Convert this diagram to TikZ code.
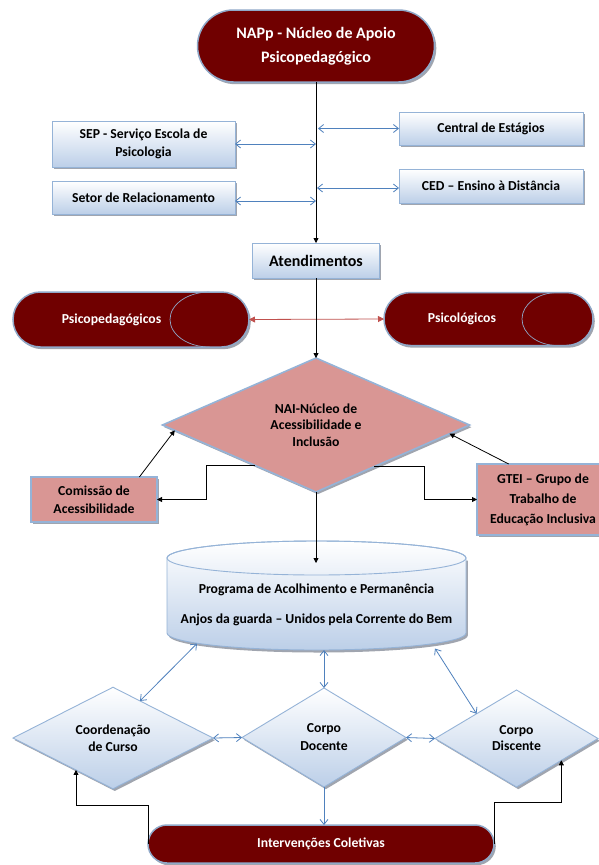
\documentclass[tikz,border=0pt]{standalone}
\usepackage{fontspec}
\setmainfont{Carlito}
\usetikzlibrary{shapes.geometric,shapes.misc,arrows.meta,shadows,calc}
\definecolor{darkred}{RGB}{112,0,0}
\definecolor{pillborder}{RGB}{143,168,200}
\definecolor{boxborder}{RGB}{149,179,215}
\definecolor{boxbottom}{RGB}{188,207,232}
\definecolor{pinkfill}{RGB}{217,150,148}
\definecolor{arrowblue}{RGB}{79,129,189}
\definecolor{arrowred}{RGB}{192,80,77}
\definecolor{shadowgrey}{RGB}{160,165,175}
\tikzset{
  txt/.style={font=\bfseries\fontsize{13.7}{17}\selectfont, align=center},
  shad/.style={drop shadow={shadow xshift=1.8pt, shadow yshift=-2.2pt, fill=shadowgrey, opacity=1}},
  bluebox/.style={rectangle, draw=boxborder, line width=0.9pt, top color=white, bottom color=boxbottom, shad, inner sep=0pt, outer sep=0pt, txt},
  pinkbox/.style={rectangle, draw=boxborder, line width=1.6pt, fill=pinkfill, shad, inner sep=0pt, outer sep=0pt, txt},
  pill/.style={rounded rectangle, draw=pillborder, line width=1.5pt, fill=darkred, text=white, shad, inner sep=0pt, outer sep=0pt, txt},
  bluediamond/.style={diamond, draw=boxborder, line width=0.9pt, top color=white, bottom color=boxbottom, shad, inner sep=0pt, outer sep=0pt, txt},
  pinkdiamond/.style={diamond, draw=boxborder, line width=1.6pt, fill=pinkfill, shad, inner sep=0pt, outer sep=0pt, txt},
  blk/.style={draw=black, line width=0.8pt, -{Triangle[length=5pt,width=5pt]}},
  barrow/.style={draw=arrowblue, line width=0.8pt, {Straight Barb[length=5pt,width=8pt]}-{Straight Barb[length=5pt,width=8pt]}},
  bsingle/.style={draw=arrowblue, line width=0.8pt, -{Straight Barb[length=5pt,width=8pt]}},
  rarrow/.style={draw=arrowred, line width=0.8pt, {Triangle[length=6pt,width=6pt]}-{Triangle[length=6pt,width=6pt]}},
  inner/.style={draw=pillborder, line width=0.7pt},
}
\begin{document}
\begin{tikzpicture}[x=1pt,y=-1pt]
\path[use as bounding box, fill=white] (0,0) rectangle (598,865);

% top pill
\node[pill, minimum width=237pt, minimum height=72pt, font=\bfseries\fontsize{16}{24}\selectfont] (napp) at (316,46) {NAPp - Núcleo de Apoio\\Psicopedagógico};

% side boxes
\node[bluebox, minimum width=183pt, minimum height=46pt, font=\bfseries\fontsize{13.7}{18}\selectfont] (sep) at (143.5,144) {SEP - Serviço Escola de\\Psicologia};
\node[bluebox, minimum width=183pt, minimum height=33pt] (setor) at (143.5,197.5) {Setor de Relacionamento};
\node[bluebox, minimum width=184pt, minimum height=33pt] (central) at (491,128.5) {Central de Estágios};
\node[bluebox, minimum width=184pt, minimum height=34pt] (ced) at (491,186) {CED – Ensino à Distância};

% Atendimentos
\node[bluebox, minimum width=127pt, minimum height=35pt, font=\bfseries\fontsize{16}{20}\selectfont] (atend) at (316,260.5) {Atendimentos};

% pills row
\node[pill, minimum width=236pt, minimum height=55pt] (psicoped) at (131,319.5) {};
\draw[inner] (209.5,292) arc[start angle=-90, end angle=-270, x radius=39.5, y radius=27.5];
\node[txt, text=white] (psicopedtxt) at (111.5,319.5) {Psicopedagógicos};
\node[pill, minimum width=209pt, minimum height=53pt] (psicol) at (488.5,319) {};
\draw[inner] (557.5,292.5) arc[start angle=-90, end angle=-270, x radius=35.5, y radius=26.5];
\node[txt, text=white] (psicoltxt) at (462,319) {Psicológicos};

% NAI diamond
\node[pinkdiamond, minimum width=307pt, minimum height=116pt, font=\bfseries\fontsize{13.7}{16.6}\selectfont] (nai) at (316,425) {NAI-Núcleo de\\Acessibilidade e\\Inclusão};

% side pink boxes
\node[pinkbox, minimum width=126pt, minimum height=45pt, font=\bfseries\fontsize{13.7}{18}\selectfont] (comissao) at (94,499.5) {Comissão de\\Acessibilidade};
\node[pinkbox, minimum width=132pt, minimum height=71pt, font=\bfseries\fontsize{13.7}{20}\selectfont] (gtei) at (543,499.5) {GTEI – Grupo de\\Trabalho de\\Educação Inclusiva};

% cylinder
\begin{scope}[shift={(1.8,2.5)}]
\fill[shadowgrey] (167,558) -- (167,633) arc[start angle=180, end angle=0, x radius=149.5, y radius=17] -- (466,558) -- cycle;
\end{scope}
\path[draw=boxborder, line width=0.9pt, top color=white, bottom color=boxbottom] (167,558) -- (167,633) arc[start angle=180, end angle=0, x radius=149.5, y radius=17] -- (466,558) arc[start angle=0, end angle=-180, x radius=149.5, y radius=17] -- cycle;
\draw[boxborder, line width=0.9pt] (316.5,558) ellipse[x radius=149.5, y radius=17];
\node[txt] (prog) at (316.5,604.5) {Programa de Acolhimento e Permanência\\[13pt]Anjos da guarda – Unidos pela Corrente do Bem};
\coordinate (cyltop) at (316,563);
\coordinate (cyla) at (197,643.5);
\coordinate (cylb) at (324,650);
\coordinate (cylc) at (435,648.5);

% bottom diamonds
\node[bluediamond, minimum width=200pt, minimum height=94pt] (coord) at (113,738) {Coordenação\\de Curso};
\node[bluediamond, minimum width=164pt, minimum height=99pt, font=\bfseries\fontsize{13.7}{18}\selectfont] (docente) at (324,737.5) {Corpo\\Docente};
\node[bluediamond, minimum width=163pt, minimum height=97pt, font=\bfseries\fontsize{13.7}{16}\selectfont] (discente) at (516.5,738.5) {Corpo\\Discente};

% bottom pill
\node[pill, minimum width=346pt, minimum height=38pt] (interv) at (321,844) {Intervenções Coletivas};

% ---- connectors ----
\draw[rarrow] (psicoped.east) -- (psicol.west);
\draw[blk] (napp.south) -- (atend.north);
\draw[blk] (atend.south) -- (nai.north);

\draw[barrow] (sep.east) -- (sep.east -| napp.south);
\draw[barrow] ([yshift=-3.5pt]setor.east) -- ([yshift=-3.5pt]setor.east -| napp.south);
\draw[barrow] ([xshift=2pt]central.west -| napp.south) -- (central.west);
\draw[barrow] ([xshift=1pt,yshift=-2pt]ced.west -| napp.south) -- ([yshift=-2pt]ced.west);

\draw[blk] (nai.south) -- (cyltop);
\draw[blk] ($(nai.west)!0.6!(nai.south)$) -- ++(-48,0) |- (comissao.east);
\draw[blk] ($(nai.east)!0.62!(nai.south)$) -- ++(50,0) |- (gtei.west);
\draw[blk] ($(comissao.north west)!0.86!(comissao.north east)$) -- ($(nai.west)!0.08!(nai.south)$);
\draw[blk] ($(gtei.north west)!0.24!(gtei.north east)$) -- ($(nai.east)!0.13!(nai.south)$);

\draw[barrow] ($(coord.north)!0.27!(coord.east)$) -- (cyla);
\draw[barrow] (docente.north) -- (cylb);
\draw[barrow] ($(discente.west)!0.51!(discente.north)$) -- (cylc);
\draw[barrow] (coord.east) -- (docente.west);
\draw[barrow] (docente.east) -- (discente.west);
\draw[bsingle] (docente.south) -- (interv.north -| docente.south);

\draw[blk] (interv.west) -- ++(0,-39) -| ($(coord.west)!0.63!(coord.south)$);
\draw[blk] (interv.east) -- ++(0,-42) -| ($(discente.south)!0.55!(discente.east)$);
\end{tikzpicture}
\end{document}
